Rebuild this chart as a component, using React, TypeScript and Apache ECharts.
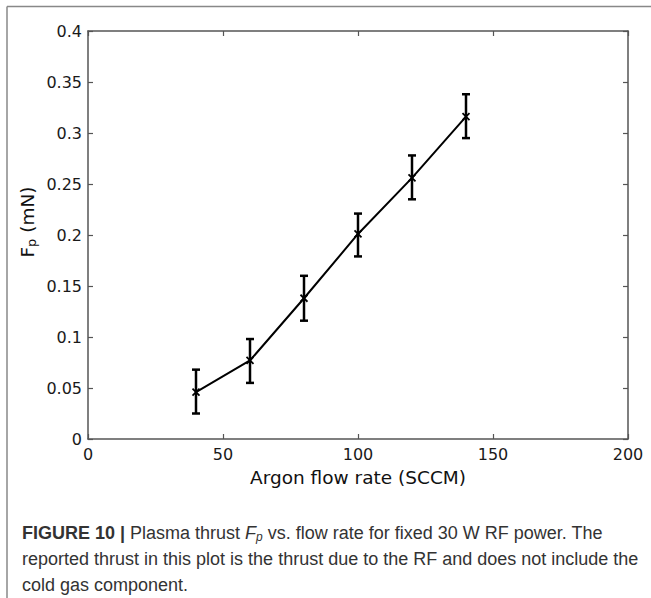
import React, { useEffect, useRef } from "react";
import * as echarts from "echarts";

const flowRates = [40, 60, 80, 100, 120, 140];
const thrust = [0.046, 0.077, 0.138, 0.201, 0.256, 0.316];
const errLow = [0.025, 0.055, 0.116, 0.179, 0.235, 0.295];
const errHigh = [0.068, 0.098, 0.160, 0.221, 0.278, 0.338];

const xTicks = { min: 0, max: 200, interval: 50 };
const yTicks = { min: 0, max: 0.4, interval: 0.05 };

const xTitle = "Argon flow rate (SCCM)";
const yTitle = "{a|F}{s|p}{a| (mN)}";
const captionLines = [
  "{b|FIGURE 10 |} Plasma thrust {i|F}{s|p} vs. flow rate for fixed 30 W RF power. The",
  "reported thrust in this plot is the thrust due to the RF and does not include the",
  "cold gas component.",
];

export default function App() {
  const ref = useRef<HTMLDivElement>(null);
  useEffect(() => {
    document.body.style.margin = "0";
    const chart = echarts.init(ref.current!, undefined, { renderer: "svg" });
    const axisColor = "#555";
    const tickFont = { fontFamily: "DejaVu Sans", fontSize: 16, color: "#1a1a1a" };
    const capFont = "Liberation Sans";
    const capSize = 18;
    const capRich = {
      b: { fontFamily: capFont, fontSize: capSize, fontWeight: "bold", color: "#222" },
      i: { fontFamily: capFont, fontSize: capSize, fontStyle: "italic", color: "#333" },
      s: { fontFamily: capFont, fontSize: 12, fontStyle: "italic", color: "#333", padding: [8, 0, 0, 0] },
    };
    const capY = [533, 559, 585];
    const axisCommon = (show: boolean) => ({
      type: "value",
      axisLine: { show: true, onZero: false, lineStyle: { color: axisColor, width: 1.5 } },
      axisTick: { show: true, inside: true, length: 5, lineStyle: { color: axisColor, width: 1.2 } },
      splitLine: { show: false },
    });
    chart.setOption({
      animation: false,
      backgroundColor: "#fff",
      grid: { left: 88, top: 31, right: 23, bottom: 159, containLabel: false },
      xAxis: [
        {
          ...axisCommon(true),
          position: "bottom",
          min: xTicks.min,
          max: xTicks.max,
          interval: xTicks.interval,
          name: xTitle,
          nameLocation: "middle",
          nameGap: 29,
          nameTextStyle: { fontFamily: "DejaVu Sans", fontSize: 18.5, color: "#111" },
          axisLabel: { ...tickFont, margin: 7 },
        },
        {
          ...axisCommon(false),
          position: "top",
          min: xTicks.min,
          max: xTicks.max,
          interval: xTicks.interval,
          axisLabel: { show: false },
        },
      ],
      yAxis: [
        {
          ...axisCommon(true),
          position: "left",
          min: yTicks.min,
          max: yTicks.max,
          interval: yTicks.interval,
          axisLabel: {
            ...tickFont,
            margin: 6,
            formatter: (v: number) => String(+v.toFixed(2)),
          },
        },
        {
          ...axisCommon(false),
          position: "right",
          min: yTicks.min,
          max: yTicks.max,
          interval: yTicks.interval,
          axisLabel: { show: false },
        },
      ],
      series: [
        {
          type: "line",
          xAxisIndex: 0,
          yAxisIndex: 0,
          data: flowRates.map((x, i) => [x, thrust[i]]),
          showSymbol: false,
          symbol: "none",
          lineStyle: { color: "#000", width: 2 },
          z: 3,
        },
        {
          type: "custom",
          xAxisIndex: 0,
          yAxisIndex: 0,
          data: flowRates.map((x, i) => [x, errLow[i], errHigh[i], thrust[i]]),
          encode: { x: 0, y: [1, 2, 3] },
          z: 4,
          renderItem: (params: any, api: any) => {
            const x = api.value(0);
            const lo = api.coord([x, api.value(1)]);
            const hi = api.coord([x, api.value(2)]);
            const pv = api.coord([x, api.value(3)]);
            const cap = 4;
            const m = 3.5;
            const style = { stroke: "#000", lineWidth: 2.5, fill: null };
            const mstyle = { stroke: "#000", lineWidth: 1.8, fill: null };
            return {
              type: "group",
              children: [
                { type: "line", shape: { x1: lo[0], y1: lo[1], x2: hi[0], y2: hi[1] }, style },
                { type: "line", shape: { x1: hi[0] - cap, y1: hi[1], x2: hi[0] + cap, y2: hi[1] }, style },
                { type: "line", shape: { x1: lo[0] - cap, y1: lo[1], x2: lo[0] + cap, y2: lo[1] }, style },
                { type: "line", shape: { x1: pv[0] - m, y1: pv[1] - m, x2: pv[0] + m, y2: pv[1] + m }, style: mstyle },
                { type: "line", shape: { x1: pv[0] - m, y1: pv[1] + m, x2: pv[0] + m, y2: pv[1] - m }, style: mstyle },
              ],
            };
          },
        },
      ],
      graphic: [
        { type: "line", shape: { x1: 7, y1: 6.5, x2: 651, y2: 6.5 }, style: { stroke: "#888", lineWidth: 1.5 } },
        { type: "line", shape: { x1: 7, y1: 6.5, x2: 7, y2: 598 }, style: { stroke: "#888", lineWidth: 1.5 } },
        {
          type: "text",
          x: 27,
          y: 222,
          rotation: Math.PI / 2,
          style: {
            text: yTitle,
            align: "center",
            verticalAlign: "middle",
            rich: {
              a: { fontFamily: "DejaVu Sans", fontSize: 18.5, fill: "#111" },
              s: { fontFamily: "DejaVu Sans", fontSize: 13, fill: "#111", padding: [9, 0, 0, 0] },
            },
          },
        },
        ...captionLines.map((t, i) => ({
          type: "text",
          x: 22,
          y: capY[i],
          style: {
            text: t,
            fontFamily: capFont,
            fontSize: capSize,
            fill: "#333",
            verticalAlign: "middle",
            align: "left",
            rich: capRich,
          },
        })),
      ],
    });
    return () => chart.dispose();
  }, []);
  return <div ref={ref} style={{ width: 651, height: 598 }} />;
}
